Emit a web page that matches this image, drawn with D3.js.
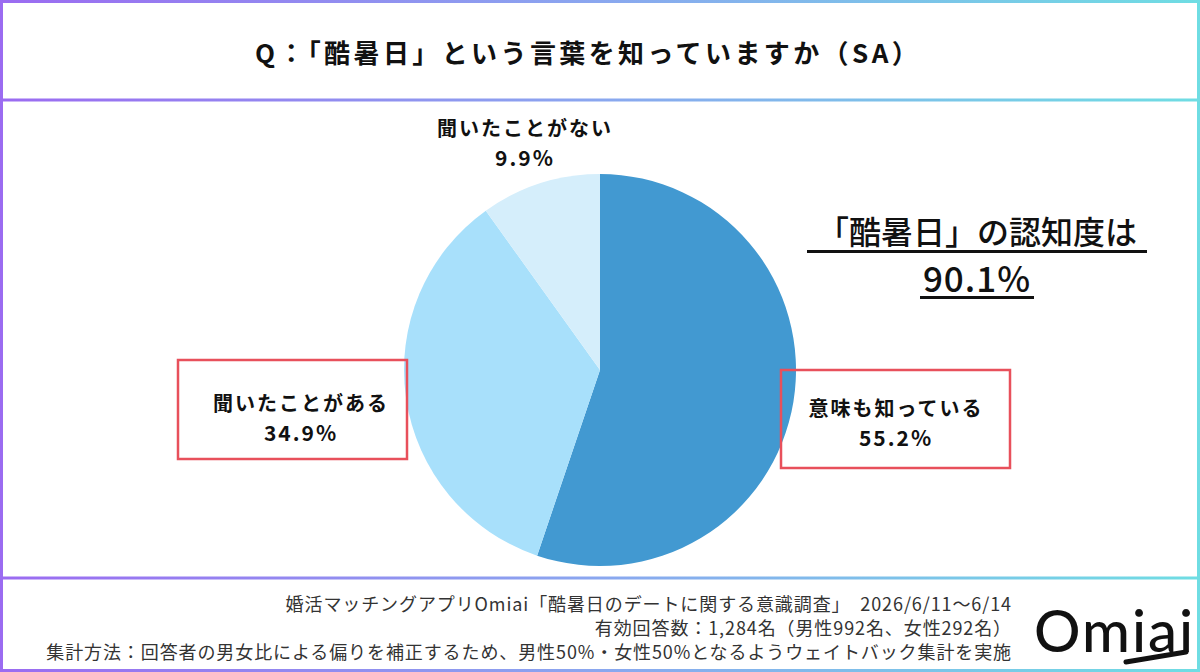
<!DOCTYPE html>
<html>
<head>
<meta charset="utf-8">
<script src="https://cdn.jsdelivr.net/npm/d3@7"></script>
<style>
  body { margin: 0; background: #fff; }
  svg { display: block; font-family: "Noto Sans CJK JP", "Noto Sans", sans-serif; }
</style>
</head>
<body>
<div id="chart"></div>
<script>
const title = "Q：「酷暑日」という言葉を知っていますか（SA）";
const categories = ["意味も知っている", "聞いたことがある", "聞いたことがない"];
const values = [55.2, 34.9, 9.9];
const colors = ["#4299d1", "#a8e0fb", "#d5eefb"];
const callout = ["「酷暑日」の認知度は", "90.1%"];
const footer = [
  "婚活マッチングアプリOmiai「酷暑日のデートに関する意識調査」  2026/6/11～6/14",
  "有効回答数：1,284名（男性992名、女性292名）",
  "集計方法：回答者の男女比による偏りを補正するため、男性50%・女性50%となるようウェイトバック集計を実施"
];

const width = 1200, height = 672;
const svg = d3.select("#chart").append("svg")
  .attr("width", width)
  .attr("height", height);

const defs = svg.append("defs");
const grad = defs.append("linearGradient")
  .attr("id", "frame")
  .attr("gradientUnits", "userSpaceOnUse")
  .attr("x1", 0).attr("x2", width).attr("y1", 0).attr("y2", 0);
grad.append("stop").attr("offset", "0%").attr("stop-color", "#9b6bf1");
grad.append("stop").attr("offset", "50%").attr("stop-color", "#8aa7ef");
grad.append("stop").attr("offset", "100%").attr("stop-color", "#6fdde3");

// frame + dividers
svg.append("rect")
  .attr("x", 1.5).attr("y", 1.5)
  .attr("width", width - 3).attr("height", height - 3)
  .attr("fill", "none")
  .attr("stroke", "url(#frame)")
  .attr("stroke-width", 3);

[100, 578].forEach(y => {
  svg.append("rect")
    .attr("x", 0).attr("y", y - 1.5)
    .attr("width", width).attr("height", 3)
    .attr("fill", "url(#frame)");
});

// title
svg.append("text")
  .attr("x", 588).attr("y", 51)
  .attr("text-anchor", "middle")
  .attr("dominant-baseline", "central")
  .attr("font-size", 26)
  .attr("font-weight", 700)
  .attr("letter-spacing", 3.4)
  .attr("fill", "#111")
  .text(title);

// pie
const cx = 600, cy = 370, r = 196;
const pie = d3.pie().sort(null).value(d => d)(values);
const arc = d3.arc().innerRadius(0).outerRadius(r);

svg.append("g")
  .attr("transform", `translate(${cx},${cy})`)
  .selectAll("path")
  .data(pie)
  .join("path")
  .attr("d", arc)
  .attr("fill", (d, i) => colors[i]);

// labels
const labelPos = [
  { x: 896, y: 407, box: [781, 370, 229, 98] },
  { x: 301, y: 402, box: [178, 360, 229, 99] },
  { x: 525, y: 127, box: null }
];

labelPos.forEach((p, i) => {
  if (p.box) {
    svg.append("rect")
      .attr("x", p.box[0]).attr("y", p.box[1])
      .attr("width", p.box[2]).attr("height", p.box[3])
      .attr("fill", "none")
      .attr("stroke", "#e8505b")
      .attr("stroke-width", 2.5);
  }
  const g = svg.append("g")
    .attr("text-anchor", "middle")
    .attr("font-weight", 700)
    .attr("fill", "#111");
  g.append("text")
    .attr("x", p.x).attr("y", p.y)
    .attr("dominant-baseline", "central")
    .attr("font-size", 20)
    .attr("letter-spacing", 2)
    .text(categories[i]);
  g.append("text")
    .attr("x", p.x).attr("y", p.y + 30)
    .attr("dominant-baseline", "central")
    .attr("font-size", 21)
    .attr("letter-spacing", 2)
    .text(d3.format(".1f")(values[i]) + "%");
});

// callout
const co = svg.append("g").attr("fill", "#111");
co.append("text")
  .attr("x", 977).attr("y", 244)
  .attr("text-anchor", "middle")
  .attr("font-size", 32)
  .attr("font-weight", 500)
  .text(callout[0]);
co.append("rect").attr("x", 807).attr("y", 250).attr("width", 340).attr("height", 3);
co.append("text")
  .attr("x", 977).attr("y", 292)
  .attr("text-anchor", "middle")
  .attr("font-size", 35)
  .attr("font-weight", 500)
  .attr("letter-spacing", 1)
  .text(callout[1]);
co.append("rect").attr("x", 920).attr("y", 296).attr("width", 114).attr("height", 3);

// footer
svg.append("g")
  .selectAll("text")
  .data(footer)
  .join("text")
  .attr("x", 1012)
  .attr("y", (d, i) => 603 + i * 24)
  .attr("text-anchor", "end")
  .attr("dominant-baseline", "central")
  .attr("font-size", 18)
  .attr("letter-spacing", 0.9)
  .attr("fill", "#333")
  .attr("xml:space", "preserve")
  .text(d => d);

// logo
const logo = svg.append("g").attr("fill", "#111");
logo.append("text")
  .attr("x", 1034).attr("y", 652)
  .attr("font-family", "Lato, 'Open Sans', sans-serif")
  .attr("font-size", 58)
  .attr("font-weight", 500)
  .attr("letter-spacing", 2)
  .text("Omiai");
logo.append("line")
  .attr("x1", 1126).attr("y1", 662)
  .attr("x2", 1186).attr("y2", 652)
  .attr("stroke", "#111")
  .attr("stroke-width", 5)
  .attr("stroke-linecap", "round");
</script>
</body>
</html>
